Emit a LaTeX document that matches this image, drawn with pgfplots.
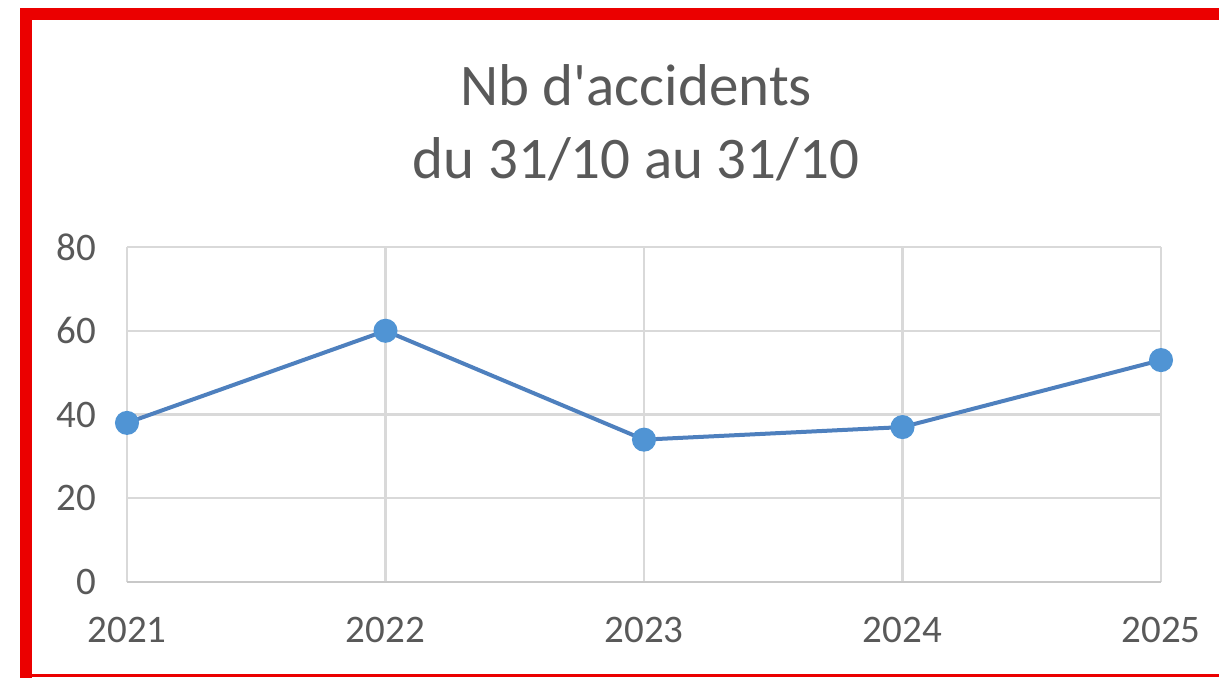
\documentclass[border=0pt]{standalone}
\usepackage{fontspec}
\setmainfont{Carlito}
\usepackage{pgfplots}
\pgfplotsset{compat=1.18}
\definecolor{txt}{HTML}{595959}
\definecolor{gridc}{HTML}{D9D9D9}
\definecolor{axc}{HTML}{C8C8C8}
\definecolor{linec}{RGB}{78,128,190}
\definecolor{markc}{RGB}{80,148,212}
\definecolor{frame}{RGB}{235,0,0}
\begin{document}
\begin{tikzpicture}[x=0.5pt,y=0.5pt]
\path[use as bounding box] (0,0) rectangle (1219,677);
\begin{scope}
\clip (0,0) rectangle (1219,677);
\draw[frame, line width=6pt] (26,-10) -- (26,663) -- (1240,663);
\draw[frame, line width=1.5pt] (20,1.5) -- (1240,1.5);
\end{scope}
\node[font=\fontsize{29.5}{35}\selectfont, text=txt, anchor=base] at (636,572) {Nb d\textquotesingle accidents};
\node[font=\fontsize{29.5}{35}\selectfont, text=txt, anchor=base] at (636,499) {du 31/10 au 31/10};
\begin{axis}[
  at={(63.5pt,47.5pt)}, anchor=south west,
  scale only axis, width=517pt, height=167.5pt,
  xmin=2021, xmax=2025, ymin=0, ymax=80,
  xtick={2021,2022,2023,2024,2025},
  xticklabels={2021,2022,2023,2024,2025},
  ytick={0,20,40,60,80},
  axis x line=bottom, axis y line=left,
  x axis line style={axc, line width=1.2pt, -},
  y axis line style={draw=none, -},
  grid=major,
  major grid style={gridc, line width=1.2pt},
  major tick length=0pt,
  tick style={draw=none},
  /pgf/number format/assume math mode=true,
  ticklabel style={font=\fontsize{19.5}{22}\selectfont, text=txt},
  yticklabel style={xshift=-12pt},
  xticklabel style={yshift=-14pt},
  clip=false,
]
\addplot[linec, line width=2pt, mark=*, mark size=5pt, mark options={fill=markc, draw=markc}]
  coordinates {(2021,38) (2022,60) (2023,34) (2024,37) (2025,53)};
\end{axis}
\end{tikzpicture}
\end{document}
